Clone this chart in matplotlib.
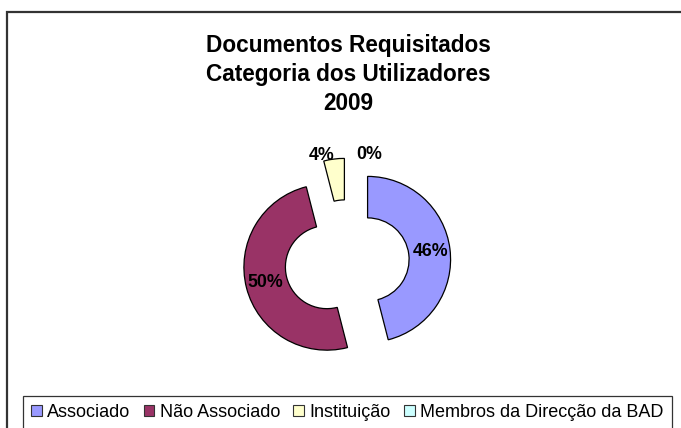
import numpy as np
import matplotlib
matplotlib.use('Agg')
import matplotlib.pyplot as plt
from matplotlib.patches import Rectangle, Patch

plt.rcParams['font.family'] = ['Liberation Sans', 'DejaVu Sans']

# data
categories = ['Associado', 'Não Associado', 'Instituição', 'Membros da Direcção da BAD']
values = [46, 50, 4, 0]
labels = ['46%', '50%', '4%', '0%']
colors = ['#9999FF', '#993366', '#FFFFCC', '#CCFFFF']

W, H = 681, 428
fig = plt.figure(figsize=(W / 100, H / 100), dpi=100)
ax = fig.add_axes([0, 0, 1, 1])

# doughnut centre / radius in pixel units (y measured from bottom)
cx, cy, R = 347, H - 262, 83
expl = 0.25 * R  # pie explode is in data units
explode = [expl] * len(values)

wedges, _ = ax.pie(values, colors=colors, startangle=90, counterclock=False,
                   radius=R, center=(cx, cy), explode=explode,
                   wedgeprops=dict(width=R * 0.5, edgecolor='black', linewidth=0.9))
# zero-sized slice is not drawn
for w, v in zip(wedges, values):
    if v == 0:
        w.set_visible(False)

ax.set_xlim(0, W)
ax.set_ylim(0, H)
ax.set_aspect('auto')
ax.axis('off')

# data labels
total = sum(values)
start = 90.0
for i, v in enumerate(values):
    frac = v / total
    mid = np.deg2rad(start - 360 * frac / 2)
    start -= 360 * frac
    if v >= 10:
        r = expl + R * 0.76
        x = cx + r * np.cos(mid)
        y = cy + r * np.sin(mid)
    else:
        r = R * 1.37
        x = cx + r * np.cos(mid) + (-11 if i == 2 else 22)
        y = cy + r * np.sin(mid) - 6
    ax.text(x, y, labels[i], ha='center', va='center', fontsize=12.8,
            fontweight='bold', color='black')

# title
ax.text(348, H - 34, 'Documentos Requisitados\nCategoria dos Utilizadores\n2009',
        ha='center', va='top', fontsize=16.3, fontweight='bold', linespacing=1.32)

# chart border (cropped on right/bottom)
fig.patches.append(Rectangle((7 / W, -0.1), 1.2, (H - 12) / H + 0.1,
                             transform=fig.transFigure, fill=False,
                             edgecolor='#333333', linewidth=1.6))

# legend
handles = [Patch(facecolor=c, edgecolor='#333333', linewidth=0.8) for c in colors]
leg = fig.legend(handles, categories, loc='upper left', bbox_to_anchor=(23 / W, 1 - 396 / H),
                 ncol=4, frameon=True, fontsize=13.0, handlelength=0.6, handleheight=0.6,
                 handletextpad=0.3, columnspacing=0.72, borderpad=0.45, borderaxespad=0,
                 fancybox=False)
leg.get_frame().set_edgecolor('black')
leg.get_frame().set_linewidth(0.9)

fig.savefig('out.png', dpi=100)
